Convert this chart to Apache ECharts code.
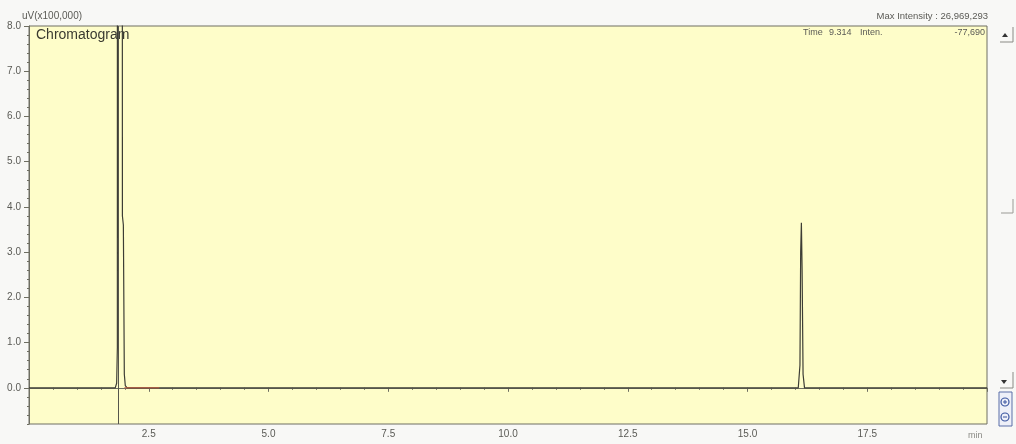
<!DOCTYPE html>
<html>
<head>
<meta charset="utf-8">
<script src="https://cdn.jsdelivr.net/npm/echarts@6/dist/echarts.min.js"></script>
<style>
  html, body { margin: 0; padding: 0; background: #f8f8f6; }
  #chart { width: 1016px; height: 444px; }
</style>
</head>
<body>
<div id="chart"></div>
<script>
// Retention time (min) and detector signal (uV x 100,000)
const timeMin = [0, 1.80, 1.83, 1.845, 1.86, 1.94, 1.95, 1.97, 1.99, 2.01, 2.05,
                 16.06, 16.095, 16.11, 16.125, 16.14, 16.16, 16.19, 20];
const signal  = [0, 0, 0.1, 0.9, 269.69293, 40, 3.8, 3.6, 0.3, 0.05, 0,
                 0, 0.5, 3.0, 3.65, 2.6, 0.3, 0, 0];

// Integration baseline drawn under the first peak
const integTime = [1.99, 2.72];
const integLevel = [0, 0];

// Cursor position (min)
const cursorTime = 1.87;

// Axis ticks
const yLabelValues = [0, 1, 2, 3, 4, 5, 6, 7, 8];
const xLabelValues = [2.5, 5, 7.5, 10, 12.5, 15, 17.5];

const headerTexts = {
  unit: 'uV(x100,000)',
  title: 'Chromatogram',
  maxInt: 'Max Intensity : 26,969,293',
  time: 'Time', timeVal: '9.314', inten: 'Inten.', intenVal: '-77,690',
  xUnit: 'min'
};

const signalData = timeMin.map((t, i) => [t, signal[i]]);
const integData = integTime.map((t, i) => [t, integLevel[i]]);

const chart = echarts.init(document.getElementById('chart'), null, { renderer: 'canvas' });

const labelStyle = { color: '#5a5a55', fontSize: 10, fontFamily: 'Liberation Sans, Arial, sans-serif' };

chart.setOption({
  backgroundColor: '#f8f8f6',
  animation: false,
  grid: {
    left: 29, right: 29, top: 26, bottom: 20,
    show: true, backgroundColor: '#fefdc9', borderColor: '#6e6e62', borderWidth: 1
  },
  xAxis: {
    type: 'value', min: 0, max: 20, interval: 2.5,
    axisLine: { show: true, lineStyle: { color: '#6e6e62', width: 1 } },
    axisTick: { show: true, inside: false, length: 4, lineStyle: { color: '#6e6e62' } },
    minorTick: { show: true, splitNumber: 5, length: 2, lineStyle: { color: '#6e6e62' } },
    splitLine: { show: false },
    axisLabel: Object.assign({
      margin: 5,
      formatter: v => xLabelValues.some(x => Math.abs(x - v) < 1e-6) ? v.toFixed(1) : ''
    }, labelStyle)
  },
  yAxis: [{
    type: 'value', min: -0.8, max: 8,
    axisLine: { show: true, lineStyle: { color: '#6e6e62', width: 1 } },
    axisTick: { show: true, length: 5, customValues: yLabelValues, lineStyle: { color: '#6e6e62' } },
    splitLine: { show: false },
    axisLabel: Object.assign({ margin: 8, customValues: yLabelValues, formatter: v => v.toFixed(1) }, labelStyle)
  }, {
    // fine tick marks every 0.2
    type: 'value', min: -0.8, max: 8, interval: 0.2, position: 'left',
    axisLine: { show: false },
    axisTick: { show: true, length: 2, lineStyle: { color: '#6e6e62' } },
    axisLabel: { show: false },
    splitLine: { show: false }
  }],
  series: [{
    name: 'Chromatogram',
    type: 'line',
    data: signalData,
    showSymbol: false,
    clip: true,
    lineStyle: { color: '#3d3d35', width: 1.2 },
    markLine: {
      silent: true, symbol: 'none', label: { show: false },
      lineStyle: { color: '#55554c', width: 1, type: 'solid' },
      data: [{ xAxis: cursorTime }]
    },
    z: 3
  }, {
    name: 'Baseline',
    type: 'line',
    data: integData,
    showSymbol: false,
    lineStyle: { color: '#c0583c', width: 1 },
    z: 4
  }],
  graphic: [
    { type: 'text', left: 22, top: 11, style: { text: headerTexts.unit, fill: '#5a5a55', fontSize: 10, fontFamily: 'Liberation Sans, Arial, sans-serif' } },
    { type: 'text', left: 36, top: 28, style: { text: headerTexts.title, fill: '#3a3a30', fontSize: 14, fontFamily: 'Liberation Sans, Arial, sans-serif' } },
    { type: 'text', right: 28, top: 11, style: { text: headerTexts.maxInt, fill: '#5a5a55', fontSize: 9.5, fontFamily: 'Liberation Sans, Arial, sans-serif' } },
    { type: 'text', left: 803, top: 28, style: { text: headerTexts.time, fill: '#5a5a55', fontSize: 9, fontFamily: 'Liberation Sans, Arial, sans-serif' } },
    { type: 'text', left: 829, top: 28, style: { text: headerTexts.timeVal, fill: '#5a5a55', fontSize: 9, fontFamily: 'Liberation Sans, Arial, sans-serif' } },
    { type: 'text', left: 860, top: 28, style: { text: headerTexts.inten, fill: '#5a5a55', fontSize: 9, fontFamily: 'Liberation Sans, Arial, sans-serif' } },
    { type: 'text', right: 31, top: 28, style: { text: headerTexts.intenVal, fill: '#5a5a55', fontSize: 9, fontFamily: 'Liberation Sans, Arial, sans-serif' } },
    { type: 'text', left: 968, top: 431, style: { text: headerTexts.xUnit, fill: '#8a8a85', fontSize: 9, fontFamily: 'Liberation Sans, Arial, sans-serif' } },
    // scroll controls on the right edge
    { type: 'polygon', shape: { points: [[1002, 37], [1008, 37], [1005, 33]] }, style: { fill: '#333' } },
    { type: 'polyline', shape: { points: [[1013, 27], [1013, 42], [1000, 42]] }, style: { stroke: '#8a8a85', lineWidth: 1, fill: null } },
    { type: 'polyline', shape: { points: [[1013, 199], [1013, 213], [1001, 213]] }, style: { stroke: '#9a9a95', lineWidth: 1, fill: null } },
    { type: 'polygon', shape: { points: [[1001, 380], [1007, 380], [1004, 384]] }, style: { fill: '#333' } },
    { type: 'polyline', shape: { points: [[1013, 372], [1013, 388], [1000, 388]] }, style: { stroke: '#8a8a85', lineWidth: 1, fill: null } },
    // zoom buttons
    { type: 'rect', shape: { x: 999, y: 392, width: 13, height: 34 }, style: { stroke: '#5a6ea8', fill: '#eef0f8', lineWidth: 1 } },
    { type: 'circle', shape: { cx: 1005, cy: 402, r: 4 }, style: { stroke: '#3a55a0', fill: null, lineWidth: 1.2 } },
    { type: 'line', shape: { x1: 1003, y1: 402, x2: 1007, y2: 402 }, style: { stroke: '#3a55a0', lineWidth: 1 } },
    { type: 'line', shape: { x1: 1005, y1: 400, x2: 1005, y2: 404 }, style: { stroke: '#3a55a0', lineWidth: 1 } },
    { type: 'circle', shape: { cx: 1005, cy: 417, r: 4 }, style: { stroke: '#3a55a0', fill: null, lineWidth: 1.2 } },
    { type: 'line', shape: { x1: 1003, y1: 417, x2: 1007, y2: 417 }, style: { stroke: '#3a55a0', lineWidth: 1 } }
  ]
});
</script>
</body>
</html>
